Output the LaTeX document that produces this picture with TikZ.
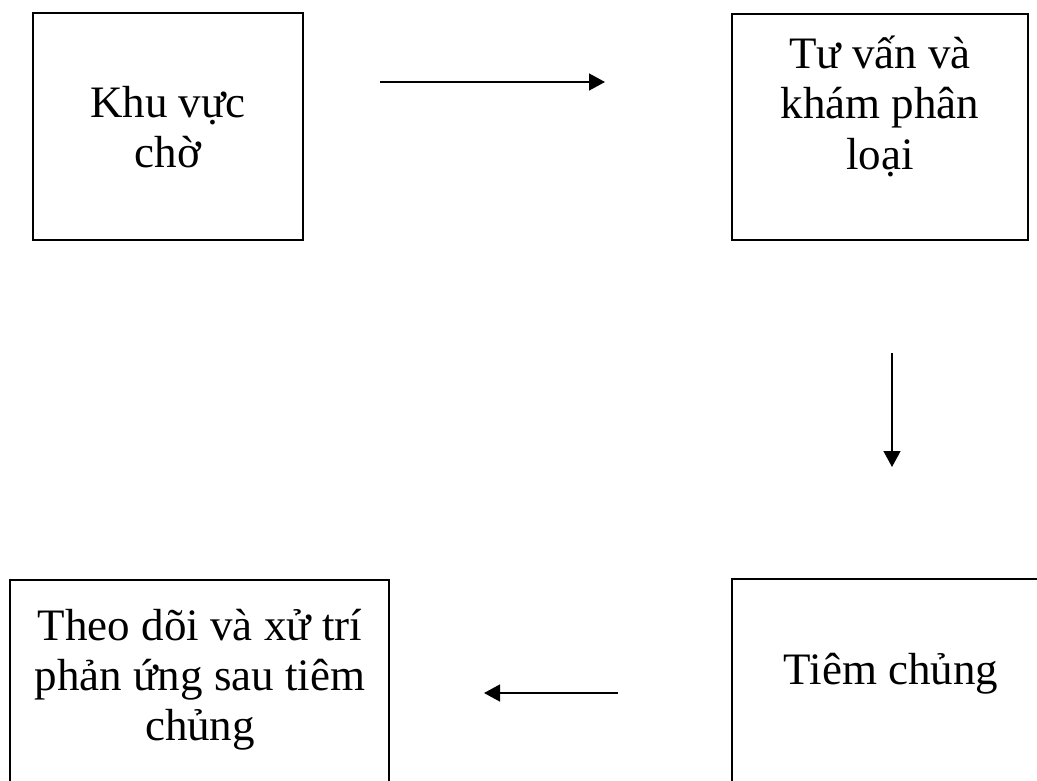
\documentclass[tikz,border=0pt]{standalone}
\usepackage{fontspec}
\setmainfont{Liberation Serif}
\usetikzlibrary{arrows.meta}

\tikzset{
	box/.style={draw, line width=1.5pt, inner sep=0pt},
	lbl/.style={align=center, inner sep=0pt, font=\fontsize{32}{35.6}\selectfont},
	flow/.style={line width=1.5pt, -{Triangle[length=0.4cm, width=0.42cm]}}
}

\begin{document}
\begin{tikzpicture}
	\useasboundingbox (0, 0) rectangle (25.925, -19.5);

	\node[box, minimum width=6.75cm, minimum height=5.675cm] (wait) at (4.2, -3.1625) {};
	\node[box, minimum width=7.4cm, minimum height=5.65cm] (consult) at (22.0, -3.175) {};
	\node[box, minimum width=7.95cm, minimum height=5.525cm] (inject) at (22.275, -17.2375) {};
	\node[box, minimum width=9.475cm, minimum height=5.5cm] (monitor) at (4.9875, -17.25) {};

	\node[lbl] (waittext) at (4.2, -3.175) {Khu vực\\chờ};
	\node[lbl] (consulttext) at (22.0, -2.66) {Tư vấn và\\khám phân\\loại};
	\node[lbl] (injecttext) at (22.275, -16.83) {Tiêm chủng};
	\node[lbl] (monitortext) at (5.0, -17.0) {Theo dõi và xử trí\\phản ứng sau tiêm\\chủng};

	\coordinate (a1s) at (9.5, -2.05);
	\coordinate (a1e) at (15.125, -2.05);
	\coordinate (a2s) at (22.3, -8.825);
	\coordinate (a2e) at (22.3, -11.675);
	\coordinate (a3s) at (15.45, -17.325);
	\coordinate (a3e) at (12.1, -17.325);

	\draw[flow] (a1s) -- (a1e);
	\draw[flow] (a2s) -- (a2e);
	\draw[flow] (a3s) -- (a3e);
\end{tikzpicture}
\end{document}
